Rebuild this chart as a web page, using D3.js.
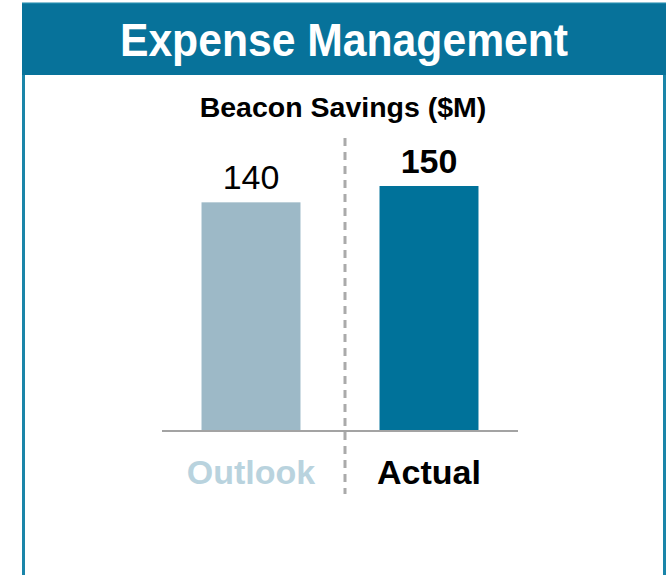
<!DOCTYPE html>
<html>
<head>
<meta charset="utf-8">
<title>Expense Management</title>
<script src="https://cdnjs.cloudflare.com/ajax/libs/d3/7.8.5/d3.min.js"></script>
<style>
  body { margin: 0; background: #fff; }
  text { font-family: "Liberation Sans", Arial, sans-serif; }
</style>
</head>
<body>
<div id="chart"></div>
<script>
// chart values
var categories = ["Outlook", "Actual"];
var savings = [140, 150];
var panelTitle = "Expense Management";
var chartTitle = "Beacon Savings ($M)";

var W = 669, H = 575;
var svg = d3.select("#chart").append("svg")
    .attr("width", W).attr("height", H);

// panel frame + header band
svg.append("rect")
    .attr("x", 23.5).attr("y", 4)
    .attr("width", 641).attr("height", H + 10)
    .style("fill", "#fff")
    .style("stroke", "#1a85a9")
    .style("stroke-width", 3);
svg.append("rect")
    .attr("x", 22).attr("y", 4)
    .attr("width", 644).attr("height", 71)
    .style("fill", "#07729a");
// header text is a little taller/narrower than plain Arial
svg.append("text")
    .attr("transform", "translate(344,56) scale(0.97,1.06)")
    .attr("text-anchor", "middle")
    .style("font-size", "44px").style("font-weight", "bold")
    .style("fill", "#fff")
    .text(panelTitle);

svg.append("text")
    .attr("x", 343).attr("y", 117)
    .attr("text-anchor", "middle")
    .style("font-size", "28.5px").style("font-weight", "bold")
    .style("fill", "#000")
    .text(chartTitle);

// scales
var x = d3.scaleBand()
    .domain(categories)
    .range([162, 518])
    .paddingInner(0.444)
    .paddingOuter(0.222);
var y = d3.scaleLinear()
    .domain([0, 150])
    .range([431, 186]);

var barFill = ["#9db9c7", "#00729a"];
var catFill = ["#b9d3de", "#000"];

svg.selectAll(".bar")
    .data(savings)
    .enter().append("rect")
    .attr("class", "bar")
    .attr("x", function(d, i) { return x(categories[i]); })
    .attr("y", function(d) { return y(d); })
    .attr("width", x.bandwidth())
    .attr("height", function(d) { return y(0) - y(d); })
    .style("fill", function(d, i) { return barFill[i]; });

// value labels
svg.selectAll(".val")
    .data(savings)
    .enter().append("text")
    .attr("class", "val")
    .attr("x", function(d, i) { return x(categories[i]) + x.bandwidth() / 2; })
    .attr("y", function(d) { return y(d) - 13; })
    .attr("text-anchor", "middle")
    .style("font-size", "34px")
    .style("font-weight", function(d, i) { return i == 1 ? "bold" : "normal"; })
    .style("fill", "#000")
    .text(function(d) { return d; });

// baseline
svg.append("line")
    .attr("x1", 162).attr("x2", 518)
    .attr("y1", y(0)).attr("y2", y(0))
    .style("stroke", "#a3a3a3")
    .style("stroke-width", 2);

// divider between outlook and actual
svg.append("line")
    .attr("x1", 345).attr("x2", 345)
    .attr("y1", 138).attr("y2", 494)
    .style("stroke", "#aaaaaa")
    .style("stroke-width", 3)
    .style("stroke-dasharray", "8,6");

// category labels
svg.selectAll(".cat")
    .data(categories)
    .enter().append("text")
    .attr("class", "cat")
    .attr("x", function(d) { return x(d) + x.bandwidth() / 2; })
    .attr("y", 484)
    .attr("text-anchor", "middle")
    .style("font-size", "34px").style("font-weight", "bold")
    .style("fill", function(d, i) { return catFill[i]; })
    .text(function(d) { return d; });
</script>
</body>
</html>
